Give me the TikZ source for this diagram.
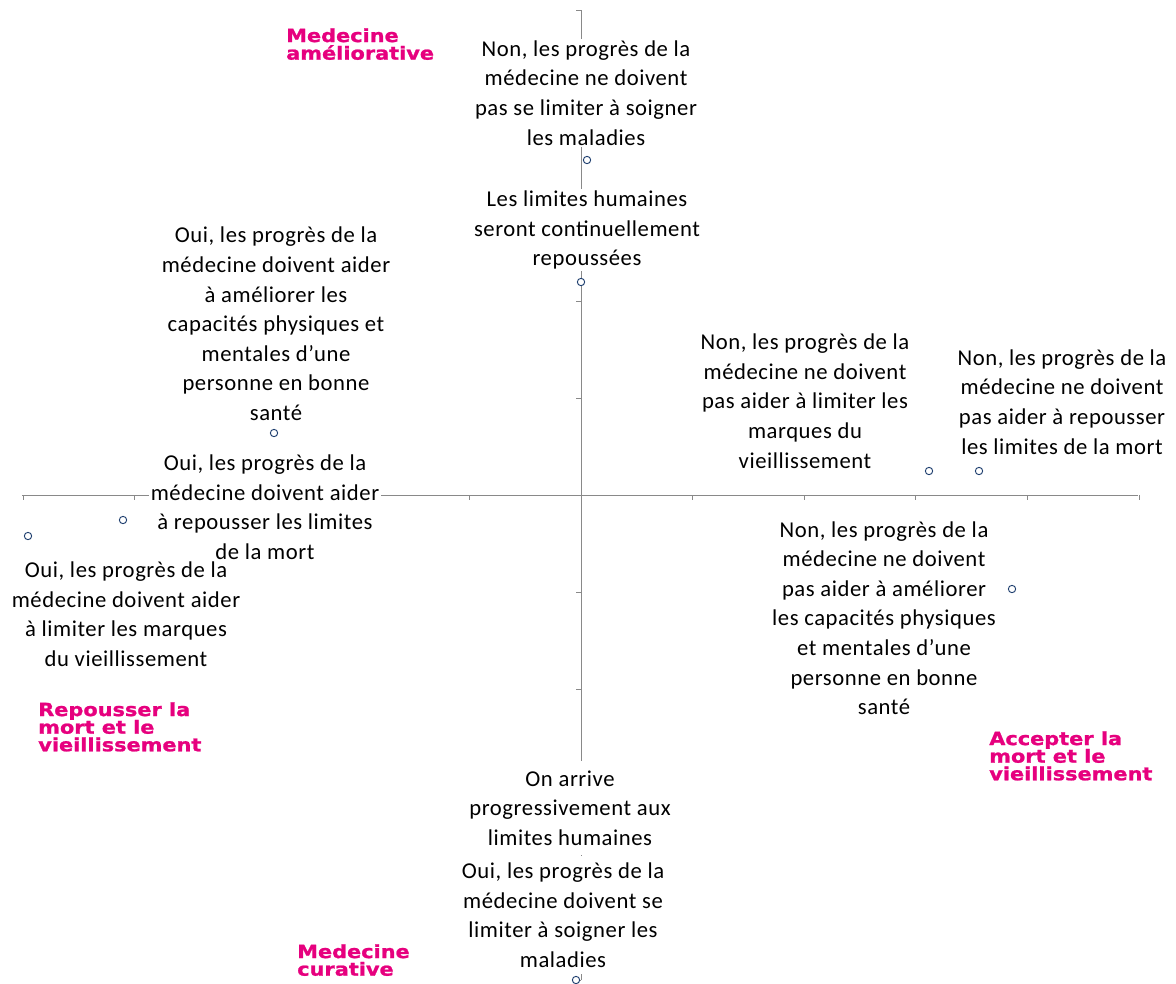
\documentclass[tikz,border=0pt]{standalone}
\usepackage{fontspec}
\setmainfont{Carlito}[LetterSpace=2.5]
\newfontfamily\vfont{DejaVu Sans}[FakeStretch=1.15,BoldFeatures={FakeBold=1.2}]
\definecolor{axisgray}{HTML}{898989}
\definecolor{ptblue}{HTML}{1F3F6F}
\definecolor{mag}{HTML}{E6007E}
\begin{document}
\begin{tikzpicture}[x=0.75pt,y=-0.75pt,
  axis/.style={draw=axisgray,line width=0.75pt},
  pt/.style={circle,draw=ptblue,fill=white,line width=0.7pt,minimum size=5.5pt,inner sep=0pt},
  lab/.style={fill=white,align=center,inner sep=1pt,font=\fontsize{17}{22.2}\selectfont},
  quad/.style={text=mag,align=left,anchor=north west,inner sep=0pt,font=\vfont\bfseries\fontsize{13.6}{13.2}\selectfont}]
\useasboundingbox (0,0) rectangle (1176,983);
% axes
\coordinate (xl) at (22,495);
\coordinate (xr) at (1138,495);
\coordinate (yt) at (581,10);
\coordinate (yb) at (581,980);
\draw[axis] (xl) -- (xr);
\draw[axis] (yt) -- (yb);
\foreach \k in {-5,...,5}{
  \draw[axis] (581+\k*111.6,495) -- ++(0,5);
  \draw[axis] (581,495+\k*97) -- ++(-5,0);
}
% points
\node[pt] (p1) at (587,160) {};
\node[pt] (p2) at (581,282) {};
\node[pt] (p3) at (274,433) {};
\node[pt] (p4) at (123,520) {};
\node[pt] (p5) at (28,536) {};
\node[pt] (p6) at (929,471) {};
\node[pt] (p7) at (979,471) {};
\node[pt] (p8) at (1012,589) {};
\node[pt] (p10) at (576,980) {};
% labels
\node[lab] (l1) at (586,93) {Non, les progrès de la\\médecine ne doivent\\pas se limiter à soigner\\les maladies};
\node[lab] (l2) at (587,230) {Les limites humaines\\seront continuellement\\repoussées};
\node[lab] (l3) at (276,324) {Oui, les progrès de la\\médecine doivent aider\\à améliorer les\\capacités physiques et\\mentales d’une\\personne en bonne\\santé};
\node[lab] (l4) at (265,507) {Oui, les progrès de la\\médecine doivent aider\\à repousser les limites\\de la mort};
\node[lab] (l5) at (126,614) {Oui, les progrès de la\\médecine doivent aider\\à limiter les marques\\du vieillissement};
\node[lab] (l6) at (805,401) {Non, les progrès de la\\médecine ne doivent\\pas aider à limiter les\\marques du\\vieillissement};
\node[lab] (l7) at (1062,402) {Non, les progrès de la\\médecine ne doivent\\pas aider à repousser\\les limites de la mort};
\node[lab] (l8) at (884,618) {Non, les progrès de la\\médecine ne doivent\\pas aider à améliorer\\les capacités physiques\\et mentales d’une\\personne en bonne\\santé};
\node[lab,inner ysep=7pt] (l9) at (570,808) {On arrive\\progressivement aux\\limites humaines};
\node[lab,inner ysep=5pt] (l10) at (563,915) {Oui, les progrès de la\\médecine doivent se\\limiter à soigner les\\maladies};
% quadrant titles
\node[quad] (q1) at (286,28) {Medecine\\améliorative};
\node[quad] (q2) at (38,702) {Repousser la\\mort et le\\vieillissement};
\node[quad] (q3) at (989,731) {Accepter la\\mort et le\\vieillissement};
\node[quad] (q4) at (297,944) {Medecine\\curative};
\end{tikzpicture}
\end{document}
